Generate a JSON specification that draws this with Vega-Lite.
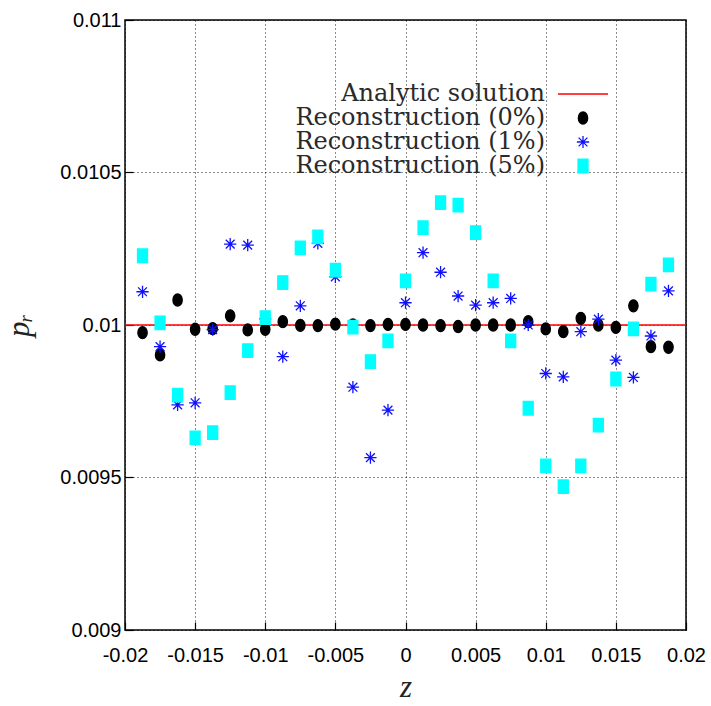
{
  "$schema": "https://vega.github.io/schema/vega-lite/v6.json",
  "width": 561,
  "height": 610,
  "autosize": {"type": "none"},
  "padding": {"left": 125, "top": 20, "right": 25, "bottom": 76},
  "background": "white",
  "config": {
    "view": {"stroke": "black", "strokeWidth": 1.5},
    "axis": {
      "labelFont": "Liberation Sans Narrow, Liberation Sans",
      "labelFontSize": 20,
      "labelColor": "black",
      "labelFlush": false,
      "labelOverlap": false,
      "grid": true,
      "gridColor": "black",
      "gridDash": [1, 3],
      "gridWidth": 1,
      "gridOpacity": 0.9,
      "domain": false,
      "tickColor": "black",
      "tickSize": -8,
      "tickWidth": 1.2,
      "titleFont": "Liberation Serif",
      "titleFontStyle": "italic",
      "titleFontWeight": "normal",
      "titleFontSize": 31,
      "titleColor": "#222"
    },
    "legend": {
      "orient": "none",
      "legendX": 432,
      "legendY": 48,
      "labelAlign": "right",
      "labelOffset": -64,
      "labelFont": "DejaVu Serif",
      "labelFontSize": 24,
      "labelColor": "#2a2a2a",
      "labelLimit": 500,
      "symbolStrokeWidth": 1.3,
      "rowPadding": 0
    }
  },
  "datasets": {
    "analytic": [
      {"z": -0.02, "p": 0.01, "series": "Analytic solution"},
      {"z": 0.02, "p": 0.01, "series": "Analytic solution"}
    ],
    "recon": [
      {"z": -0.01875, "p": 0.009975, "series": "Reconstruction (0%)"},
      {"z": -0.0175, "p": 0.009902, "series": "Reconstruction (0%)"},
      {"z": -0.01625, "p": 0.010082, "series": "Reconstruction (0%)"},
      {"z": -0.015, "p": 0.009986, "series": "Reconstruction (0%)"},
      {"z": -0.01375, "p": 0.009988, "series": "Reconstruction (0%)"},
      {"z": -0.0125, "p": 0.01003, "series": "Reconstruction (0%)"},
      {"z": -0.01125, "p": 0.009984, "series": "Reconstruction (0%)"},
      {"z": -0.01, "p": 0.009986, "series": "Reconstruction (0%)"},
      {"z": -0.00875, "p": 0.010011, "series": "Reconstruction (0%)"},
      {"z": -0.0075, "p": 0.009999, "series": "Reconstruction (0%)"},
      {"z": -0.00625, "p": 0.009998, "series": "Reconstruction (0%)"},
      {"z": -0.005, "p": 0.010003, "series": "Reconstruction (0%)"},
      {"z": -0.00375, "p": 0.01, "series": "Reconstruction (0%)"},
      {"z": -0.0025, "p": 0.009998, "series": "Reconstruction (0%)"},
      {"z": -0.00125, "p": 0.010002, "series": "Reconstruction (0%)"},
      {"z": 0, "p": 0.010002, "series": "Reconstruction (0%)"},
      {"z": 0.00125, "p": 0.01, "series": "Reconstruction (0%)"},
      {"z": 0.0025, "p": 0.009998, "series": "Reconstruction (0%)"},
      {"z": 0.00375, "p": 0.009995, "series": "Reconstruction (0%)"},
      {"z": 0.005, "p": 0.01, "series": "Reconstruction (0%)"},
      {"z": 0.00625, "p": 0.01, "series": "Reconstruction (0%)"},
      {"z": 0.0075, "p": 0.01, "series": "Reconstruction (0%)"},
      {"z": 0.00875, "p": 0.010011, "series": "Reconstruction (0%)"},
      {"z": 0.01, "p": 0.009987, "series": "Reconstruction (0%)"},
      {"z": 0.01125, "p": 0.009978, "series": "Reconstruction (0%)"},
      {"z": 0.0125, "p": 0.010022, "series": "Reconstruction (0%)"},
      {"z": 0.01375, "p": 0.01, "series": "Reconstruction (0%)"},
      {"z": 0.015, "p": 0.009992, "series": "Reconstruction (0%)"},
      {"z": 0.01625, "p": 0.010063, "series": "Reconstruction (0%)"},
      {"z": 0.0175, "p": 0.009929, "series": "Reconstruction (0%)"},
      {"z": 0.01875, "p": 0.009927, "series": "Reconstruction (0%)"},
      {"z": -0.01875, "p": 0.010109, "series": "Reconstruction (1%)"},
      {"z": -0.0175, "p": 0.009929, "series": "Reconstruction (1%)"},
      {"z": -0.01625, "p": 0.009738, "series": "Reconstruction (1%)"},
      {"z": -0.015, "p": 0.009745, "series": "Reconstruction (1%)"},
      {"z": -0.01375, "p": 0.009985, "series": "Reconstruction (1%)"},
      {"z": -0.0125, "p": 0.010265, "series": "Reconstruction (1%)"},
      {"z": -0.01125, "p": 0.010262, "series": "Reconstruction (1%)"},
      {"z": -0.01, "p": 0.01002, "series": "Reconstruction (1%)"},
      {"z": -0.00875, "p": 0.009896, "series": "Reconstruction (1%)"},
      {"z": -0.0075, "p": 0.010063, "series": "Reconstruction (1%)"},
      {"z": -0.00625, "p": 0.010268, "series": "Reconstruction (1%)"},
      {"z": -0.005, "p": 0.010158, "series": "Reconstruction (1%)"},
      {"z": -0.00375, "p": 0.009796, "series": "Reconstruction (1%)"},
      {"z": -0.0025, "p": 0.009565, "series": "Reconstruction (1%)"},
      {"z": -0.00125, "p": 0.009721, "series": "Reconstruction (1%)"},
      {"z": 0, "p": 0.010073, "series": "Reconstruction (1%)"},
      {"z": 0.00125, "p": 0.010237, "series": "Reconstruction (1%)"},
      {"z": 0.0025, "p": 0.010173, "series": "Reconstruction (1%)"},
      {"z": 0.00375, "p": 0.010095, "series": "Reconstruction (1%)"},
      {"z": 0.005, "p": 0.010065, "series": "Reconstruction (1%)"},
      {"z": 0.00625, "p": 0.010073, "series": "Reconstruction (1%)"},
      {"z": 0.0075, "p": 0.010087, "series": "Reconstruction (1%)"},
      {"z": 0.00875, "p": 0.01, "series": "Reconstruction (1%)"},
      {"z": 0.01, "p": 0.009841, "series": "Reconstruction (1%)"},
      {"z": 0.01125, "p": 0.00983, "series": "Reconstruction (1%)"},
      {"z": 0.0125, "p": 0.009978, "series": "Reconstruction (1%)"},
      {"z": 0.01375, "p": 0.010019, "series": "Reconstruction (1%)"},
      {"z": 0.015, "p": 0.009885, "series": "Reconstruction (1%)"},
      {"z": 0.01625, "p": 0.009828, "series": "Reconstruction (1%)"},
      {"z": 0.0175, "p": 0.009964, "series": "Reconstruction (1%)"},
      {"z": 0.01875, "p": 0.010112, "series": "Reconstruction (1%)"},
      {"z": -0.01875, "p": 0.010227, "series": "Reconstruction (5%)"},
      {"z": -0.0175, "p": 0.010007, "series": "Reconstruction (5%)"},
      {"z": -0.01625, "p": 0.00977, "series": "Reconstruction (5%)"},
      {"z": -0.015, "p": 0.00963, "series": "Reconstruction (5%)"},
      {"z": -0.01375, "p": 0.009647, "series": "Reconstruction (5%)"},
      {"z": -0.0125, "p": 0.009778, "series": "Reconstruction (5%)"},
      {"z": -0.01125, "p": 0.009916, "series": "Reconstruction (5%)"},
      {"z": -0.01, "p": 0.010024, "series": "Reconstruction (5%)"},
      {"z": -0.00875, "p": 0.010139, "series": "Reconstruction (5%)"},
      {"z": -0.0075, "p": 0.010253, "series": "Reconstruction (5%)"},
      {"z": -0.00625, "p": 0.010289, "series": "Reconstruction (5%)"},
      {"z": -0.005, "p": 0.01018, "series": "Reconstruction (5%)"},
      {"z": -0.00375, "p": 0.009993, "series": "Reconstruction (5%)"},
      {"z": -0.0025, "p": 0.00988, "series": "Reconstruction (5%)"},
      {"z": -0.00125, "p": 0.009948, "series": "Reconstruction (5%)"},
      {"z": 0, "p": 0.010145, "series": "Reconstruction (5%)"},
      {"z": 0.00125, "p": 0.010319, "series": "Reconstruction (5%)"},
      {"z": 0.0025, "p": 0.010401, "series": "Reconstruction (5%)"},
      {"z": 0.00375, "p": 0.010393, "series": "Reconstruction (5%)"},
      {"z": 0.005, "p": 0.010303, "series": "Reconstruction (5%)"},
      {"z": 0.00625, "p": 0.010145, "series": "Reconstruction (5%)"},
      {"z": 0.0075, "p": 0.009948, "series": "Reconstruction (5%)"},
      {"z": 0.00875, "p": 0.009727, "series": "Reconstruction (5%)"},
      {"z": 0.01, "p": 0.009538, "series": "Reconstruction (5%)"},
      {"z": 0.01125, "p": 0.00947, "series": "Reconstruction (5%)"},
      {"z": 0.0125, "p": 0.009538, "series": "Reconstruction (5%)"},
      {"z": 0.01375, "p": 0.009672, "series": "Reconstruction (5%)"},
      {"z": 0.015, "p": 0.009823, "series": "Reconstruction (5%)"},
      {"z": 0.01625, "p": 0.009987, "series": "Reconstruction (5%)"},
      {"z": 0.0175, "p": 0.010134, "series": "Reconstruction (5%)"},
      {"z": 0.01875, "p": 0.010197, "series": "Reconstruction (5%)"}
    ]
  },
  "layer": [
    {
      "data": {"name": "analytic"},
      "mark": {"type": "line", "strokeWidth": 1.4},
      "encoding": {
        "x": {
          "field": "z", "type": "quantitative",
          "scale": {"domain": [-0.02, 0.02], "nice": false, "zero": false},
          "axis": {
            "values": [-0.02, -0.015, -0.01, -0.005, 0, 0.005, 0.01, 0.015, 0.02],
            "labelExpr": "'' + datum.value",
            "title": "z",
            "labelPadding": 23,
            "titleY": 66,
            "titleBaseline": "alphabetic"
          }
        },
        "y": {
          "field": "p", "type": "quantitative",
          "scale": {"domain": [0.009, 0.011], "nice": false, "zero": false},
          "axis": {
            "values": [0.009, 0.0095, 0.01, 0.0105, 0.011],
            "labelExpr": "'' + datum.value",
            "title": "pᵣ",
            "labelPadding": 12,
            "titleAngle": -90,
            "titleX": -106,
            "titleY": 305,
            "titleAlign": "center",
            "titleBaseline": "middle"
          }
        },
        "stroke": {
          "field": "series", "type": "nominal", "title": null,
          "scale": {
            "domain": ["Analytic solution", "Reconstruction (0%)", "Reconstruction (1%)", "Reconstruction (5%)"],
            "range": ["#ff0000", "#000000", "#1010ff", "#00ffff"]
          }
        }
      }
    },
    {
      "data": {"name": "recon"},
      "mark": {"type": "point", "filled": true, "opacity": 1, "strokeWidth": 1.3},
      "encoding": {
        "x": {"field": "z", "type": "quantitative"},
        "y": {"field": "p", "type": "quantitative"},
        "stroke": {"field": "series", "type": "nominal", "title": null},
        "fill": {
          "field": "series", "type": "nominal", "title": null,
          "scale": {
            "domain": ["Analytic solution", "Reconstruction (0%)", "Reconstruction (1%)", "Reconstruction (5%)"],
            "range": ["#ff0000", "#000000", "#1010ff", "#00ffff"]
          }
        },
        "shape": {
          "field": "series", "type": "nominal", "title": null,
          "scale": {
            "domain": ["Analytic solution", "Reconstruction (0%)", "Reconstruction (1%)", "Reconstruction (5%)"],
            "range": [
              "stroke",
              "M0,-1A0.78,1,0,1,1,0,1A0.78,1,0,1,1,0,-1Z",
              "M0,-1L0,1M-1,0L1,0M-0.72,-0.72L0.72,0.72M-0.72,0.72L0.72,-0.72",
              "M-0.74,-1L0.74,-1L0.74,1L-0.74,1Z"
            ]
          }
        },
        "size": {
          "field": "series", "type": "nominal", "title": null,
          "scale": {
            "type": "ordinal",
            "domain": ["Analytic solution", "Reconstruction (0%)", "Reconstruction (1%)", "Reconstruction (5%)"],
            "range": [2500, 144, 150, 182]
          }
        }
      }
    }
  ]
}
